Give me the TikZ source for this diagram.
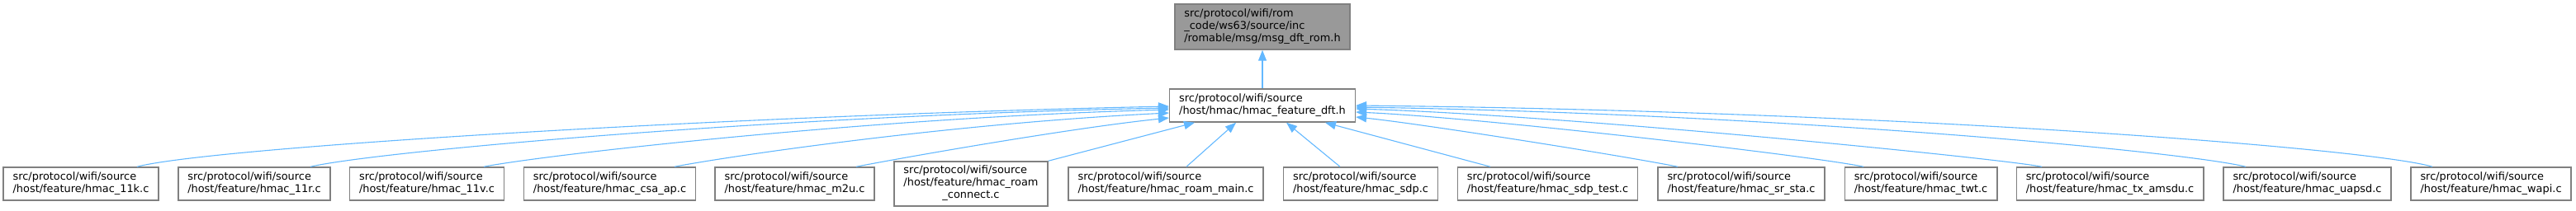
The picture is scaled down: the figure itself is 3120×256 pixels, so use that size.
\documentclass[tikz,border=0pt]{standalone}
\usepackage{fontspec}
\setmainfont{DejaVu Sans}
\usetikzlibrary{arrows.meta}
\definecolor{edgeblue}{HTML}{63B8FF}
\definecolor{boxline}{HTML}{808080}
\definecolor{rootfill}{HTML}{999999}

\begin{document}
\begin{tikzpicture}[x=1pt,y=-1pt,
  filebox/.style={draw=boxline,line width=1.5pt,fill=white,align=left,inner xsep=11.5pt,minimum height=40pt,font=\fontsize{12.9}{15}\selectfont},
  rootbox/.style={filebox,fill=rootfill,minimum height=55pt},
  incl/.style={edgeblue,line width=1.1pt,-{Triangle[length=13pt,width=10pt]}}]
  \useasboundingbox (0,0) rectangle (3120,256);
  \node[rootbox] (rom) at (1529,32.5) {src/protocol/wifi/rom\\\_code/ws63/source/inc\\/romable/msg/msg\_dft\_rom.h};
  \node[filebox] (hfd) at (1529,128) {src/protocol/wifi/source\\/host/hmac/hmac\_feature\_dft.h};
  % files that include it
  \node[filebox] (n11k) at (98,223) {src/protocol/wifi/source\\/host/feature/hmac\_11k.c};
  \node[filebox] (n11r) at (308,223) {src/protocol/wifi/source\\/host/feature/hmac\_11r.c};
  \node[filebox] (n11v) at (517,223) {src/protocol/wifi/source\\/host/feature/hmac\_11v.c};
  \node[filebox] (csaap) at (738.5,223) {src/protocol/wifi/source\\/host/feature/hmac\_csa\_ap.c};
  \node[filebox] (mtu) at (962.5,223) {src/protocol/wifi/source\\/host/feature/hmac\_m2u.c};
  \node[filebox,minimum height=54pt] (rconn) at (1176,223) {\begin{tabular}{@{}l@{}}src/protocol/wifi/source\\/host/feature/hmac\_roam\\\multicolumn{1}{@{}c@{}}{\_connect.c}\end{tabular}};
  \node[filebox] (rmain) at (1412,223) {src/protocol/wifi/source\\/host/feature/hmac\_roam\_main.c};
  \node[filebox] (sdp) at (1648,223) {src/protocol/wifi/source\\/host/feature/hmac\_sdp.c};
  \node[filebox] (sdptest) at (1874.5,223) {src/protocol/wifi/source\\/host/feature/hmac\_sdp\_test.c};
  \node[filebox] (srsta) at (2109,223) {src/protocol/wifi/source\\/host/feature/hmac\_sr\_sta.c};
  \node[filebox] (twt) at (2326.5,223) {src/protocol/wifi/source\\/host/feature/hmac\_twt.c};
  \node[filebox] (txamsdu) at (2555.5,223) {src/protocol/wifi/source\\/host/feature/hmac\_tx\_amsdu.c};
  \node[filebox] (uapsd) at (2794.5,223) {src/protocol/wifi/source\\/host/feature/hmac\_uapsd.c};
  \node[filebox] (wapi) at (3017,223) {src/protocol/wifi/source\\/host/feature/hmac\_wapi.c};

  \draw[incl] (hfd) -- (rom);
  \draw[incl] ([xshift=68pt]n11k.north) .. controls (260,178) and (900,140) .. ([yshift=-1pt]hfd.west);
  \draw[incl] ([xshift=68pt]n11r.north) .. controls (460,183) and (950,140) .. ([yshift=-3pt]hfd.west);
  \draw[incl] ([xshift=69pt]n11v.north) .. controls (660,188) and (1050,143) .. ([yshift=-5pt]hfd.west);
  \draw[incl] ([xshift=78.5pt]csaap.north) .. controls (880,190) and (1150,150) .. ([yshift=-9pt]hfd.west);
  \draw[incl] ([xshift=74.5pt]mtu.north) .. controls (1100,190) and (1300,155) .. ([yshift=-15pt]hfd.west);
  \draw[incl] (rconn.north east) -- ([xshift=-82pt]hfd.south);
  \draw[incl] ([xshift=25pt]rmain.north) -- ([xshift=-32pt]hfd.south);
  \draw[incl] ([xshift=-25pt]sdp.north) -- ([xshift=29pt]hfd.south);
  \draw[incl] ([xshift=-69.5pt]sdptest.north) -- ([xshift=76pt]hfd.south);
  \draw[incl] ([xshift=-77pt]srsta.north) .. controls (1960,188) and (1720,150) .. ([yshift=-14pt]hfd.east);
  \draw[incl] ([xshift=-69.5pt]twt.north) .. controls (2200,190) and (1800,143) .. ([yshift=-8pt]hfd.east);
  \draw[incl] ([xshift=-82.5pt]txamsdu.north) .. controls (2420,192) and (1900,140) .. ([yshift=-4pt]hfd.east);
  \draw[incl] ([xshift=-74.5pt]uapsd.north) .. controls (2640,183) and (2150,138) .. ([yshift=-2pt]hfd.east);
  \draw[incl] ([xshift=-71pt]wapi.north) .. controls (2870,180) and (2300,135) .. (hfd.east);
\end{tikzpicture}
\end{document}
